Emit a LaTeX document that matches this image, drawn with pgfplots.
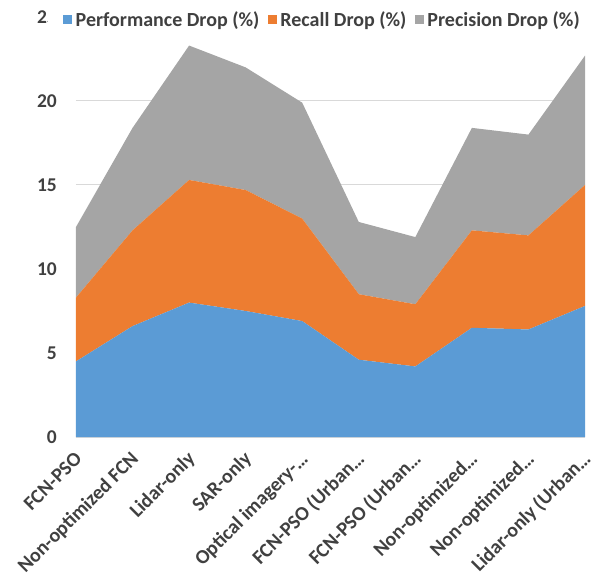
\documentclass[border=0pt]{standalone}
\usepackage{fontspec}
\setmainfont{Carlito}
\usepackage{pgfplots}
\usepackage{pgfplotstable}
\pgfplotsset{compat=1.18}

\definecolor{perfblue}{HTML}{5B9BD5}
\definecolor{recallorange}{HTML}{ED7D31}
\definecolor{precgray}{HTML}{A5A5A5}
\definecolor{labelgray}{HTML}{404040}
\definecolor{gridgray}{HTML}{D9D9D9}

% Drop (in percent) per configuration: performance, recall, precision
\pgfplotstableread{
x perf recall prec
0 4.5 3.8 4.2
1 6.6 5.7 6.1
2 8.0 7.3 8.0
3 7.5 7.2 7.3
4 6.9 6.1 6.9
5 4.6 3.9 4.3
6 4.2 3.7 4.0
7 6.5 5.8 6.1
8 6.4 5.6 6.0
9 7.8 7.2 7.7
}\dropdata

\begin{document}
\begin{tikzpicture}
\useasboundingbox (-76pt,-141pt) rectangle (529pt,437pt);
\begin{axis}[
  at={(0pt,0pt)}, anchor=south west,
  scale only axis, width=509pt, height=420pt,
  xmin=0, xmax=9, ymin=0, ymax=25,
  stack plots=y,
  xtick={0,...,9},
  xticklabels={FCN-PSO, Non-optimized FCN, Lidar-only, SAR-only, Optical imagery-…, FCN-PSO (Urban…, FCN-PSO (Urban…, Non-optimized…, Non-optimized…, Lidar-only (Urban…},
  ytick={0,5,...,25},
  ymajorgrids,
  grid style={gridgray, line width=1pt},
  major tick length=0pt,
  axis x line*=bottom, axis y line*=left,
  y axis line style={draw=none},
  x axis line style={gridgray, line width=1pt},
  /pgf/number format/assume math mode=true,
  yticklabel style={font=\fontsize{19.5}{22}\selectfont\bfseries, text=labelgray,
    inner sep=0pt, anchor=east, xshift=-19pt},
  xticklabel style={font=\fontsize{20}{22}\selectfont\bfseries, text=labelgray,
    inner sep=0pt, xshift=7pt, yshift=-23pt, rotate=45, anchor=base east},
  legend columns=3,
  legend image code/.code={\path[#1, draw=none] (0pt,-4.5pt) rectangle (9pt,4.5pt);},
  legend style={at={(axis description cs:0,1)}, anchor=west,
    xshift=-28.5pt, yshift=-3pt,
    draw=none, fill=white, inner xsep=15.5pt, inner ysep=3pt,
    font=\fontsize{20}{24}\selectfont\bfseries, text=labelgray,
    nodes={inner sep=0.5pt},
    /tikz/every odd column/.append style={column sep=3pt},
    /tikz/every even column/.append style={column sep=8pt}},
  legend cell align=left,
]
\addplot[fill=perfblue, draw=none] table[x=x, y=perf] {\dropdata} \closedcycle;
\addplot[fill=recallorange, draw=none] table[x=x, y=recall] {\dropdata} \closedcycle;
\addplot[fill=precgray, draw=none] table[x=x, y=prec] {\dropdata} \closedcycle;
\legend{Performance Drop (\%), Recall Drop (\%), Precision Drop (\%)}
\end{axis}
\end{tikzpicture}
\end{document}
